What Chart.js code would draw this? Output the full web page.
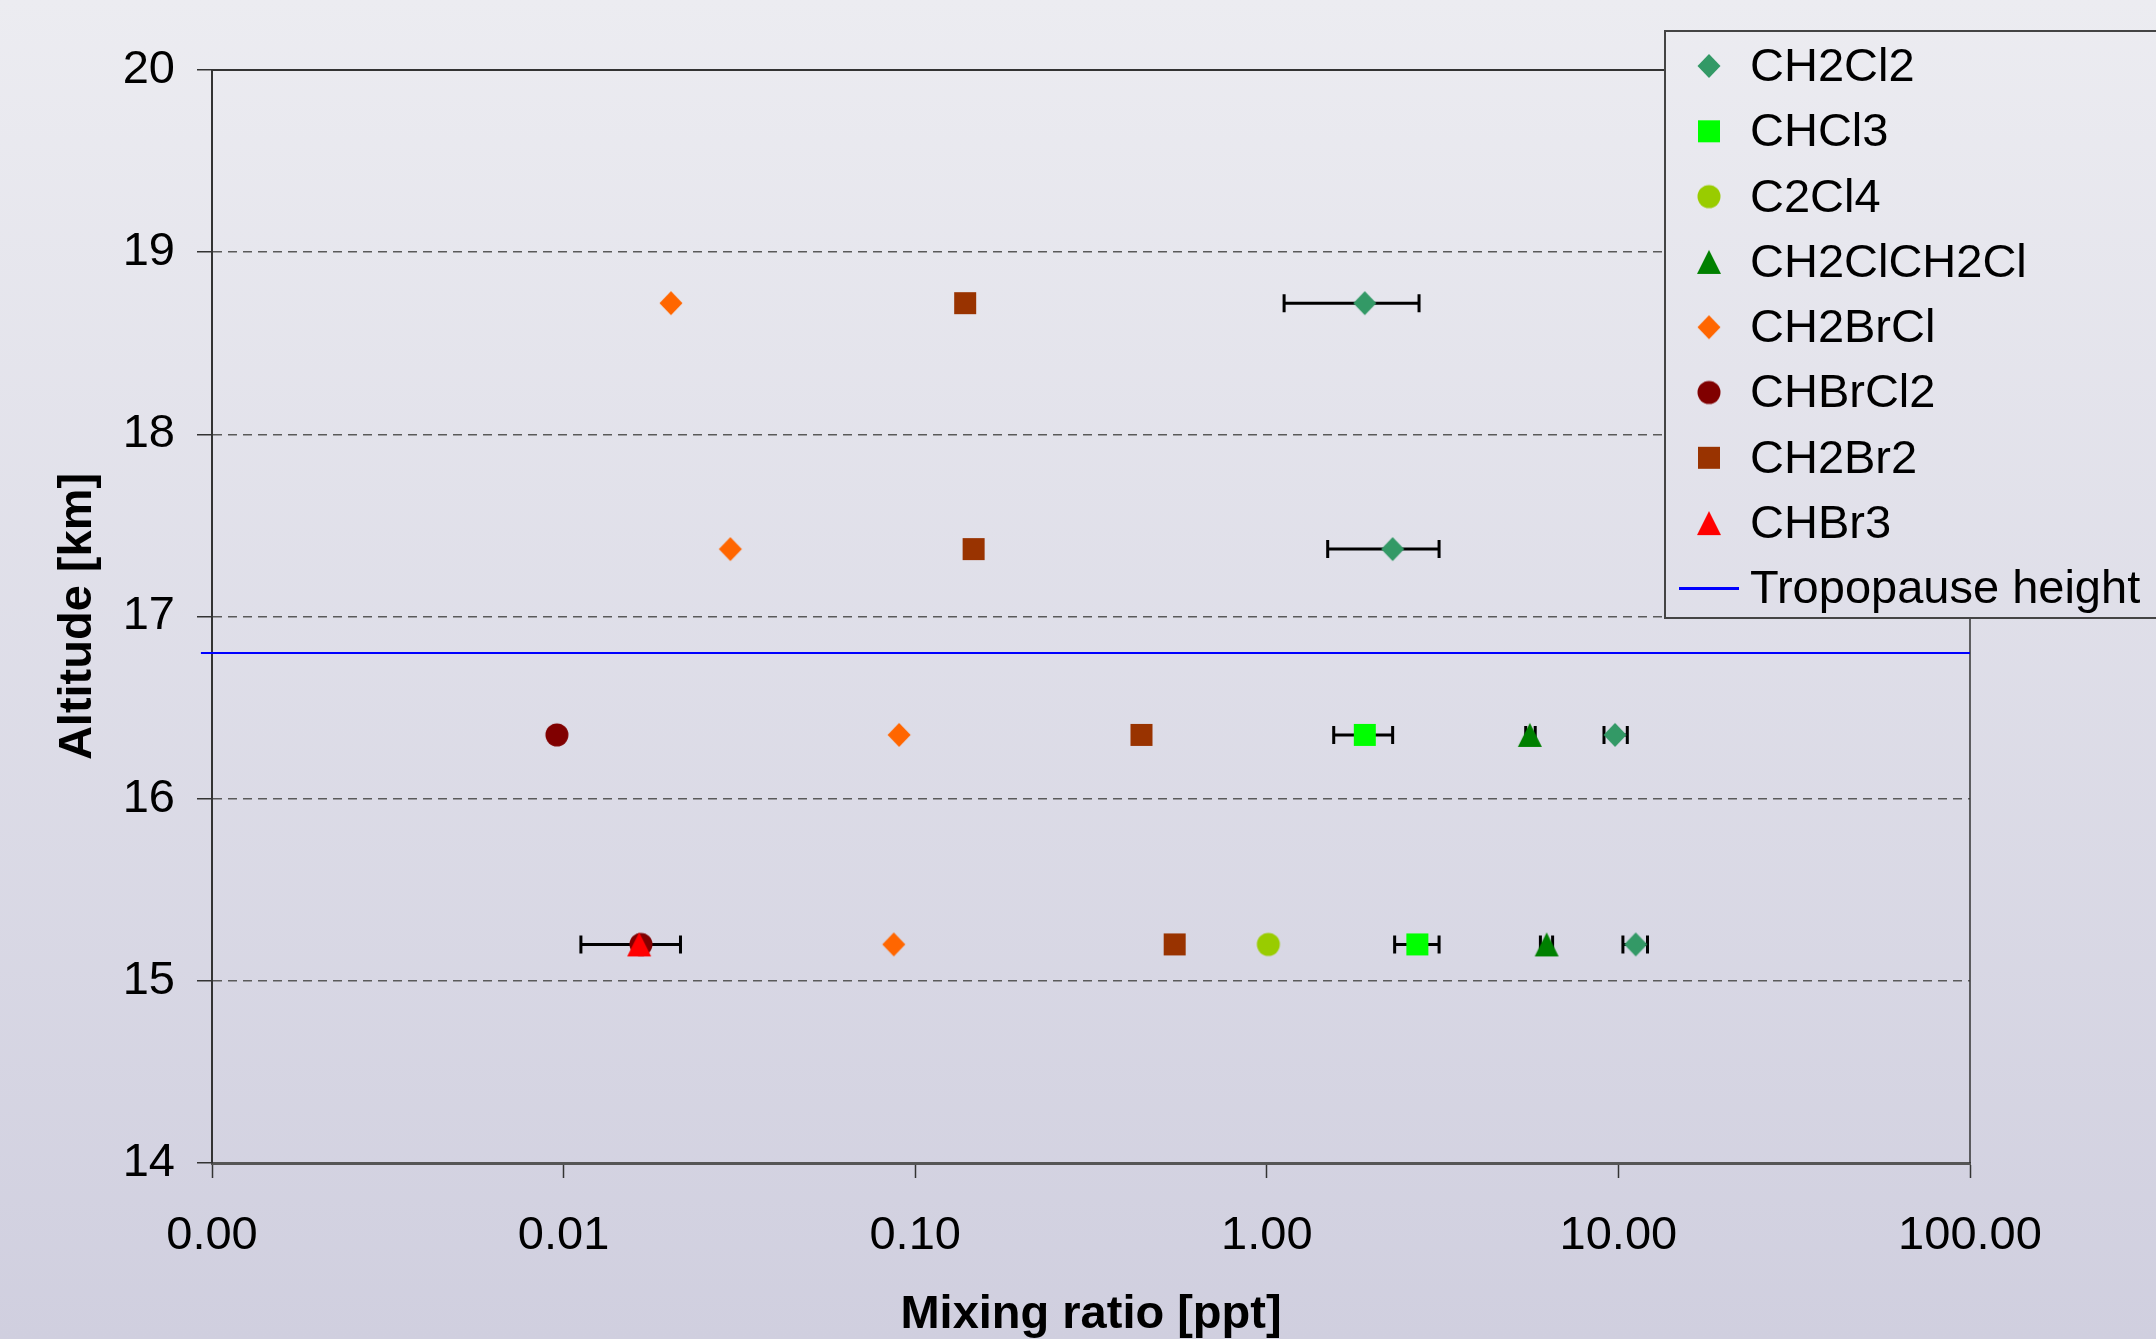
<!DOCTYPE html>
<html>
<head>
<meta charset="utf-8">
<script src="https://cdn.jsdelivr.net/npm/chart.js@4.4.1/dist/chart.umd.min.js"></script>
<style>
  html, body { margin: 0; padding: 0; background: #e0e0ea; }
  #wrap { width: 2156px; height: 1339px; }
</style>
</head>
<body>
<div id="wrap"><canvas id="chart" width="2156" height="1339"></canvas></div>
<script>
// Sample levels [km]
const altitudes = [18.72, 17.37, 16.35, 15.2];

// Mixing ratios [ppt] per compound (null = not measured at that level)
const ch2cl2 = [1.90, 2.28, 9.78, 11.2];
const chcl3 = [null, null, 1.90, 2.68];
const c2cl4 = [null, null, null, 1.01];
const ch2clch2cl = [null, null, 5.6, 6.25];
const ch2brcl = [0.0202, 0.0298, 0.090, 0.0869];
const chbrcl2 = [null, null, 0.00957, 0.0166];
const ch2br2 = [0.1387, 0.1466, 0.44, 0.547];
const chbr3 = [null, null, null, 0.0164];

// Error bar ranges [ppt]
const ch2cl2Low = [1.12, 1.49, 9.1, 10.3];
const ch2cl2High = [2.71, 3.09, 10.6, 12.1];
const chcl3Low = [null, null, 1.55, 2.31];
const chcl3High = [null, null, 2.28, 3.09];
const ch2clch2clLow = [null, null, 5.45, 6.0];
const ch2clch2clHigh = [null, null, 5.8, 6.5];
const chbr3Low = [null, null, null, 0.0112];
const chbr3High = [null, null, null, 0.0215];

// Tropopause height [km], line runs slightly past the left axis
const tropopause = 16.8;
const tropopauseFrom = 0.00093;

// Axis ticks
const xTicks = [0.001, 0.01, 0.1, 1, 10, 100];
const yTicks = [14, 15, 16, 17, 18, 19, 20];

const FONT = "'Liberation Sans', Arial, sans-serif";
Chart.defaults.font.family = FONT;

// small canvas markers, Excel-like shapes
function marker(shape, color) {
  const c = document.createElement('canvas');
  c.width = 26; c.height = 26;
  const g = c.getContext('2d');
  g.fillStyle = color;
  g.beginPath();
  if (shape === 'diamond') {
    g.moveTo(13, 1); g.lineTo(24.5, 13); g.lineTo(13, 25); g.lineTo(1.5, 13);
  } else if (shape === 'square') {
    g.rect(2, 2, 22, 22);
  } else if (shape === 'circle') {
    g.arc(13, 13, 11.5, 0, Math.PI * 2);
  } else {
    g.moveTo(13, 1); g.lineTo(25, 25); g.lineTo(1, 25);
  }
  g.closePath();
  g.fill();
  return c;
}

const series = [
  { label: 'CH2Cl2', values: ch2cl2, low: ch2cl2Low, high: ch2cl2High, color: '#339966', shape: 'diamond' },
  { label: 'CHCl3', values: chcl3, low: chcl3Low, high: chcl3High, color: '#00ff00', shape: 'square' },
  { label: 'C2Cl4', values: c2cl4, color: '#99cc00', shape: 'circle' },
  { label: 'CH2ClCH2Cl', values: ch2clch2cl, low: ch2clch2clLow, high: ch2clch2clHigh, color: '#008000', shape: 'triangle' },
  { label: 'CH2BrCl', values: ch2brcl, color: '#ff6600', shape: 'diamond' },
  { label: 'CHBrCl2', values: chbrcl2, color: '#800000', shape: 'circle' },
  { label: 'CH2Br2', values: ch2br2, color: '#993300', shape: 'square' },
  { label: 'CHBr3', values: chbr3, low: chbr3Low, high: chbr3High, color: '#ff0000', shape: 'triangle' },
];

const datasets = series.map((s, i) => ({
  type: 'scatter',
  label: s.label,
  data: s.values.map((v, k) => ({ x: v, y: altitudes[k] })).filter(p => p.x != null),
  pointStyle: marker(s.shape, s.color),
  pointRadius: 12,
  backgroundColor: s.color,
  borderColor: s.color,
  errLow: s.low,
  errHigh: s.high,
  order: series.length - i,
}));

datasets.push({
  type: 'line',
  label: 'Tropopause height',
  data: [{ x: tropopauseFrom, y: tropopause }, { x: xTicks[xTicks.length - 1], y: tropopause }],
  borderColor: '#0000ff',
  borderWidth: 2,
  pointRadius: 0,
  clip: false,
  order: 100,
});

// gradient page background, reused for the legend box
function bgGradient(ctx, h) {
  const g = ctx.createLinearGradient(0, 0, 0, h);
  g.addColorStop(0, '#ececf1');
  g.addColorStop(1, '#d0cfdf');
  return g;
}

const background = {
  id: 'background',
  beforeDraw(chart) {
    const ctx = chart.ctx;
    ctx.save();
    ctx.fillStyle = bgGradient(ctx, chart.height);
    ctx.fillRect(0, 0, chart.width, chart.height);
    ctx.restore();
  }
};

// top and right edge of the plot area
const frame = {
  id: 'frame',
  beforeDatasetsDraw(chart) {
    const { ctx, chartArea: a } = chart;
    ctx.save();
    ctx.strokeStyle = '#333';
    ctx.lineWidth = 2;
    ctx.beginPath();
    ctx.moveTo(a.left, a.top); ctx.lineTo(a.right, a.top);
    ctx.stroke();
    ctx.lineWidth = 1.5;
    ctx.beginPath();
    ctx.moveTo(a.right, a.top); ctx.lineTo(a.right, a.bottom);
    ctx.stroke();
    ctx.restore();
  }
};

// horizontal error bars with caps
const errorBars = {
  id: 'errorBars',
  beforeDatasetsDraw(chart) {
    const ctx = chart.ctx, xs = chart.scales.x, ys = chart.scales.y;
    ctx.save();
    ctx.strokeStyle = '#000';
    ctx.lineWidth = 3;
    chart.data.datasets.forEach(ds => {
      if (!ds.errLow) return;
      ds.errLow.forEach((lo, i) => {
        if (lo == null) return;
        const x1 = xs.getPixelForValue(lo);
        const x2 = xs.getPixelForValue(ds.errHigh[i]);
        const y = ys.getPixelForValue(altitudes[i]);
        ctx.beginPath();
        ctx.moveTo(x1, y); ctx.lineTo(x2, y);
        ctx.moveTo(x1, y - 9); ctx.lineTo(x1, y + 9);
        ctx.moveTo(x2, y - 9); ctx.lineTo(x2, y + 9);
        ctx.stroke();
      });
    });
    ctx.restore();
  }
};

// legend box in the top right corner
const boxLegend = {
  id: 'boxLegend',
  afterDraw(chart) {
    const ctx = chart.ctx;
    const left = 1665, top = 31, bottom = 618;
    ctx.save();
    ctx.fillStyle = bgGradient(ctx, chart.height);
    ctx.fillRect(left, top, chart.width - left + 10, bottom - top);
    ctx.strokeStyle = '#444';
    ctx.lineWidth = 2;
    ctx.strokeRect(left, top, chart.width - left + 10, bottom - top);
    ctx.font = '47px ' + FONT;
    ctx.fillStyle = '#000';
    ctx.textBaseline = 'middle';
    chart.data.datasets.forEach((ds, i) => {
      const y = 66 + i * 65.3;
      if (ds.type === 'line') {
        ctx.strokeStyle = ds.borderColor;
        ctx.lineWidth = 3;
        ctx.beginPath();
        ctx.moveTo(1679, y); ctx.lineTo(1739, y);
        ctx.stroke();
      } else {
        ctx.drawImage(ds.pointStyle, 1709 - 13, y - 13);
      }
      ctx.fillText(ds.label, 1750, y + 2);
    });
    ctx.restore();
  }
};

new Chart(document.getElementById('chart'), {
  data: { datasets },
  plugins: [background, frame, errorBars, boxLegend],
  options: {
    responsive: false,
    animation: false,
    events: [],
    layout: { padding: { left: 0, top: 70, right: 186, bottom: 0 } },
    plugins: {
      legend: { display: false },
      tooltip: { enabled: false },
    },
    scales: {
      x: {
        type: 'logarithmic',
        position: 'bottom',
        min: xTicks[0],
        max: xTicks[xTicks.length - 1],
        afterBuildTicks: s => { s.ticks = xTicks.map(v => ({ value: v })); },
        afterFit: s => { s.height = 176; },
        grid: {
          drawOnChartArea: false,
          tickLength: 15,
          tickColor: '#333',
          tickWidth: 1.5,
        },
        border: { display: true, color: '#555', width: 3 },
        ticks: {
          autoSkip: false,
          maxRotation: 0,
          padding: 30,
          color: '#000',
          font: { size: 47 },
          callback: v => Number(v).toFixed(2),
        },
        title: {
          display: true,
          text: 'Mixing ratio [ppt]',
          color: '#000',
          font: { size: 47, weight: 'bold', lineHeight: 1.0 },
          padding: { top: 0, bottom: 0 },
        },
      },
      y: {
        type: 'linear',
        min: yTicks[0],
        max: yTicks[yTicks.length - 1],
        afterBuildTicks: s => { s.ticks = yTicks.map(v => ({ value: v })); },
        afterFit: s => { s.width = 212; },
        grid: {
          color: c => (c.tick && c.tick.value === yTicks[0]) ? 'rgba(0,0,0,0)' : '#5a5a5a',
          lineWidth: 1.5,
          tickLength: 15,
          tickColor: '#333',
          tickWidth: 1.5,
          tickBorderDash: [],
        },
        border: { display: true, color: '#333', width: 2, dash: [9, 6] },
        ticks: {
          padding: 22,
          color: '#000',
          font: { size: 47 },
        },
        title: {
          display: true,
          text: 'Altitude [km]',
          color: '#000',
          font: { size: 47, weight: 'bold' },
          padding: { top: 50, bottom: 0 },
        },
      },
    },
  },
});
</script>
</body>
</html>
